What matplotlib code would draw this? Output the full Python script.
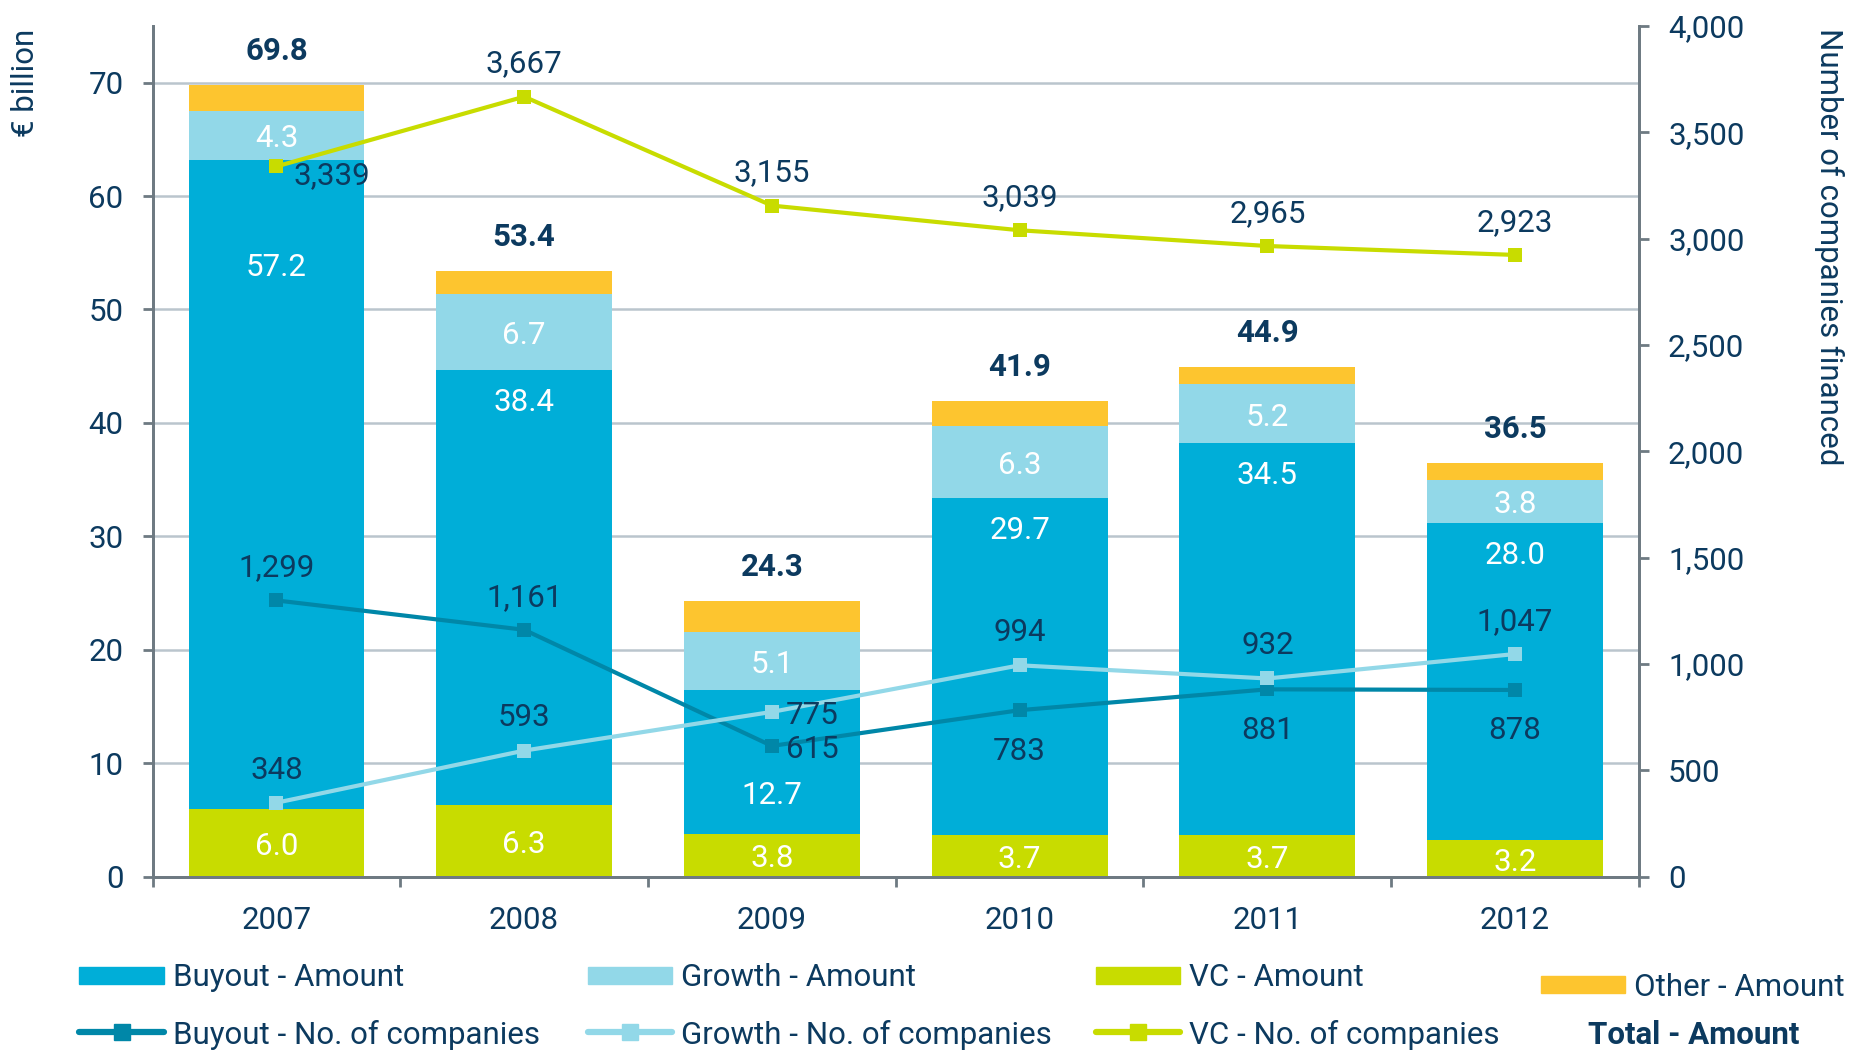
import numpy as np
import matplotlib.pyplot as plt
from matplotlib.lines import Line2D
from matplotlib.patches import Rectangle
from matplotlib.ticker import FuncFormatter

plt.rcParams['font.family'] = ['Roboto', 'DejaVu Sans']

years = ['2007', '2008', '2009', '2010', '2011', '2012']

# amounts, EUR billion (stacked from the bottom: VC, buyout, growth, other)
vc_amount = [6.0, 6.3, 3.8, 3.7, 3.7, 3.2]
buyout_amount = [57.2, 38.4, 12.7, 29.7, 34.5, 28.0]
growth_amount = [4.3, 6.7, 5.1, 6.3, 5.2, 3.8]
other_amount = [2.3, 2.0, 2.7, 2.2, 1.5, 1.5]
total_amount = [69.8, 53.4, 24.3, 41.9, 44.9, 36.5]

# number of companies financed
buyout_companies = [1299, 1161, 615, 783, 881, 878]
growth_companies = [348, 593, 775, 994, 932, 1047]
vc_companies = [3339, 3667, 3155, 3039, 2965, 2923]

# where the count labels sit relative to their marker
buyout_label_pos = ['above', 'above', 'right', 'below', 'below', 'below']
growth_label_pos = ['above', 'above', 'right', 'above', 'above', 'above']
vc_label_pos = ['right', 'above', 'above', 'above', 'above', 'above']
# how far (pt) the buyout amount label sits below the segment top
buyout_label_drop = [75, 21, 74, 21, 21, 21]

C_BUY = '#00AED8'
C_GROW = '#92D8E8'
C_VC = '#C8DC00'
C_OTHER = '#FDC52F'
C_BUY_LINE = '#0087A8'
C_TEXT = '#0C3A5F'
C_GRID = '#BAC5CD'
C_SPINE = '#6E7A82'
FS = 22.5
DY = -2.5  # small downward nudge so glyphs sit like the original

x = np.arange(len(years))
fig = plt.figure(figsize=(18.54, 10.5), dpi=100)
ax = fig.add_axes([0.0823, 0.165, 0.8017, 0.8104])
ax2 = ax.twinx()

# stacked bars
bottom = np.zeros(len(years))
for vals, col in [(vc_amount, C_VC), (buyout_amount, C_BUY),
                  (growth_amount, C_GROW), (other_amount, C_OTHER)]:
    ax.bar(x, vals, 0.71, bottom=bottom, color=col, zorder=2)
    bottom += np.array(vals)


def label(a, text, xy, dx, dy, ha='center', **kw):
    a.annotate(text, xy=xy, xytext=(dx, dy + DY), textcoords='offset points',
               ha=ha, va='center', fontsize=FS, **kw)


for i in range(len(years)):
    top_b = vc_amount[i] + buyout_amount[i]
    label(ax, f'{vc_amount[i]:.1f}', (i, vc_amount[i] / 2), 0, 0, color='white', zorder=3)
    label(ax, f'{buyout_amount[i]:.1f}', (i, top_b), 0, -buyout_label_drop[i],
          color='white', zorder=3)
    label(ax, f'{growth_amount[i]:.1f}', (i, top_b + growth_amount[i] / 2), 0, 0,
          color='white', zorder=3)
    label(ax, f'{total_amount[i]:.1f}', (i, total_amount[i]), 0, 27,
          color=C_TEXT, fontweight='bold', zorder=3)

# lines on the right axis
offsets = {'above': ((0, 26), 'center'), 'below': ((0, -27), 'center'),
           'right': ((10, 0), 'left')}
for vals, col, pos in [(buyout_companies, C_BUY_LINE, buyout_label_pos),
                       (growth_companies, C_GROW, growth_label_pos),
                       (vc_companies, C_VC, vc_label_pos)]:
    ax2.plot(x, vals, color=col, linewidth=3, marker='s', markersize=10.5,
             markeredgewidth=0, zorder=4)
    for i, v in enumerate(vals):
        off, ha = offsets[pos[i]]
        if i == 0 and vals is vc_companies:
            off = (12, -4)
        label(ax2, f'{v:,}', (i, v), off[0], off[1], ha=ha, color=C_TEXT, zorder=5)

# axes styling
ax.set_xlim(-0.5, len(years) - 0.5)
ax.set_ylim(0, 75)
ax.set_yticks(range(0, 71, 10))
ax2.set_ylim(0, 4000)
ax2.set_yticks(range(0, 4001, 500))
ax2.yaxis.set_major_formatter(FuncFormatter(lambda v, p: f'{int(v):,}'))

ax.set_xticks(x)
ax.set_xticklabels(years)
ax.set_xticks(np.arange(-0.5, len(years), 1), minor=True)
ax.tick_params(axis='x', which='major', length=0, pad=21, labelsize=FS, labelcolor=C_TEXT)
ax.tick_params(axis='x', which='minor', length=7, width=2, color=C_SPINE, direction='out')
ax.tick_params(axis='y', length=7, width=2, color=C_SPINE, pad=14, labelsize=FS,
               labelcolor=C_TEXT)
ax2.tick_params(axis='y', length=7, width=2, color=C_SPINE, pad=14, labelsize=FS,
                labelcolor=C_TEXT)

ax.yaxis.grid(True, color=C_GRID, linewidth=1.8)
ax.set_axisbelow(True)
for a in (ax, ax2):
    a.spines['top'].set_visible(False)
    for s in ('left', 'right', 'bottom'):
        a.spines[s].set_color(C_SPINE)
        a.spines[s].set_linewidth(2)

fig.text(0.014, 0.973, '€ billion', rotation=90, ha='center', va='top',
         color=C_TEXT, fontsize=FS)
fig.text(0.9866, 0.973, 'Number of companies financed', rotation=-90, ha='center',
         va='top', color=C_TEXT, fontsize=FS)

# legend drawn by hand to follow the original layout
W, H = 1854.0, 1050.0


def legend_patch(x0, x1, yc, color, text):
    fig.patches.append(Rectangle((x0 / W, 1 - (yc + 8.5) / H), (x1 - x0) / W, 17 / H,
                                 transform=fig.transFigure, color=color))
    fig.text((x1 + 9) / W, 1 - (yc + 3) / H, text, ha='left', va='center',
             color=C_TEXT, fontsize=FS)


def legend_line(x0, x1, yc, color, text):
    y = 1 - yc / H
    fig.lines.append(Line2D([x0 / W, (x0 + x1) / 2 / W, x1 / W], [y, y, y],
                            transform=fig.transFigure, color=color, linewidth=4.5,
                            marker='s', markersize=11, markevery=[1],
                            solid_capstyle='round'))
    fig.text((x1 + 9) / W, 1 - (yc + 3) / H, text, ha='left', va='center',
             color=C_TEXT, fontsize=FS)


legend_patch(79, 164, 975, C_BUY, 'Buyout - Amount')
legend_patch(588, 672, 975, C_GROW, 'Growth - Amount')
legend_patch(1096, 1180, 975, C_VC, 'VC - Amount')
legend_patch(1541, 1625, 984, C_OTHER, 'Other - Amount')
legend_line(79, 164, 1032, C_BUY_LINE, 'Buyout - No. of companies')
legend_line(588, 672, 1032, C_GROW, 'Growth - No. of companies')
legend_line(1096, 1180, 1032, C_VC, 'VC - No. of companies')
fig.text(1588 / W, 1 - 1035 / H, 'Total - Amount', ha='left', va='center',
         color=C_TEXT, fontsize=FS, fontweight='bold')

fig.savefig('out.png', dpi=100)
